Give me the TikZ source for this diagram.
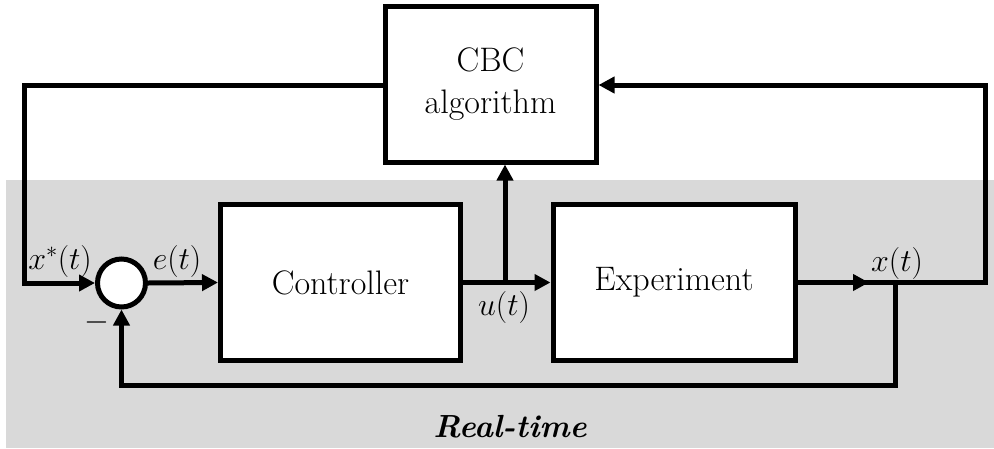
\RequirePackage{fix-cm}
\documentclass[tikz,border=0pt]{standalone}
\usetikzlibrary{arrows.meta}
\begin{document}
\begin{tikzpicture}[x=1pt,y=-1pt,
  blk/.style={draw,line width=5pt,fill=white,inner sep=0pt,minimum width=240pt,minimum height=156pt,font=\fontsize{34}{42}\selectfont,align=center},
  sumc/.style={draw,circle,line width=5pt,fill=white,inner sep=0pt,minimum size=48pt},
  wire/.style={line width=5pt,line join=miter},
  arr/.style={line width=5pt,line join=miter,-{Triangle[length=16pt,width=16pt]}},
  lbl/.style={inner sep=0pt,font=\fontsize{32}{38}\selectfont}]
\useasboundingbox (0,0) rectangle (994,448);
\fill[black!15] (6,180) rectangle (994,448);
\node[blk,minimum width=211pt,minimum height=156pt] (cbc) at (490.5,84) {CBC\\algorithm};
\node[blk] (ctrl) at (340.5,282.5) {Controller};
\node[blk,minimum width=242pt] (exp) at (674,282.5) {Experiment};
\node[sumc] (sum) at (121.5,283) {};
\coordinate (ub) at (505,282.5);
\coordinate (xa) at (869,282.5);
\coordinate (xb) at (895,282.5);
\coordinate (rt) at (985,282.5);
\coordinate (rtop) at (985,85);
\coordinate (lt) at (24,85);
\coordinate (lb) at (24,283);
\coordinate (fb) at (895,385);
\coordinate (fbl) at (121.5,385);
\draw[arr] (cbc.west |- lt) -- (lt) -- (lb) -- (sum.west);
\draw[arr] (sum.east) -- (ctrl.west);
\draw[arr] (ctrl.east) -- (exp.west);
\draw[arr] (ub) -- (ub |- cbc.south);
\draw[arr] (exp.east) -- (rt) -- (rtop) -- (rtop -| cbc.east);
\draw[arr] (exp.east) -- (xa);
\draw[arr] (xb) -- (fb) -- (fbl) -- (sum.south);
\node[lbl] (xs) at (60,261) {$x^*(t)$};
\node[lbl] (et) at (177,261) {$e(t)$};
\node[lbl] (ut) at (504,307) {$u(t)$};
\node[lbl] (xt) at (897,263) {$x(t)$};
\node[lbl] (mn) at (97,322) {$-$};
\node[lbl,font=\fontsize{32}{38}\selectfont] (rtm) at (510,427) {\textbf{\textit{Real-time}}};
\end{tikzpicture}
\end{document}
